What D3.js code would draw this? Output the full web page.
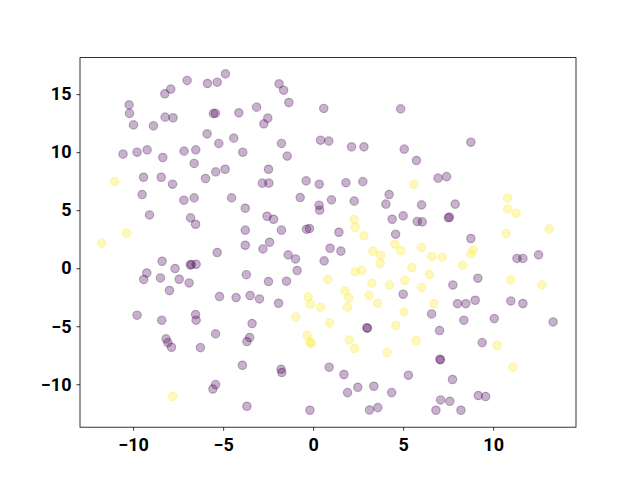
<!DOCTYPE html>
<html>
<head>
<meta charset="utf-8">
<script src="https://cdn.jsdelivr.net/npm/d3@7"></script>
<style>
  body { margin: 0; background: #fff; }
  svg { display: block; }
  .tick text { font-family: Roboto, "DejaVu Sans", sans-serif; font-weight: bold; font-size: 18px; fill: #000; }
</style>
</head>
<body>
<svg width="640" height="480"></svg>
<script>
// class 0 (purple)
const class0X = [-4.87, -7.0, -5.87, -5.33, -7.91, -8.24, -10.22, -10.2, -5.54, -5.43, -4.13, -9.98, -8.87, -8.22, -7.78,
  -5.89, -4.41, -5.24, -3.91, -10.56, -9.78, -9.22, -8.35, -7.17, -6.52, -6.61, -4.89, -5.41, -5.98, -9.42, -8.44, -7.81,
  -1.89, -1.64, -1.35, -3.14, -2.52, -2.74, 0.59, 4.86, -1.76, -1.44, 0.41, 0.87, 2.13, 2.82, 5.06, -2.48, -2.82, -2.46,
  -0.39, 0.34, 1.82, 2.76, 8.76, 5.74, 6.94, 7.41, -9.5, -7.18, -6.61, -4.53, -3.77, -9.09, -6.81, -6.53, -3.77, -3.77,
  -5.33, -8.39, -6.82, -6.77, -6.5, -7.67, -9.24, -9.41, -8.48, -7.44, -6.89, -7.98, -3.71, -5.2, -4.28, -0.72, 0.33, 0.36,
  1.02, 2.28, 4.22, 4.04, -2.56, -2.2, -1.76, -0.37, -0.2, 1.43, 4.39, 5.0, 4.58, -2.42, -2.79, 0.94, 1.54, -1.39, -0.98,
  0.61, -0.89, -2.48, -1.48, 5.0, -3.5, -2.98, -1.92, 6.02, 7.89, 5.78, 6.06, 7.51, 7.57, 8.76, 11.32, 11.65, 12.52, 9.15,
  7.76, 8.02, 8.48, 9.0, 10.98, 11.65, -9.78, -8.41, -6.53, -6.5, -5.42, -8.17, -8.07, -7.87, -6.26, -3.93, -5.42, -5.57,
  -3.68, 2.98, 3.02, -3.39, -3.53, -3.68, -1.78, -1.74, 0.89, 1.71, 2.48, 3.37, 1.91, 4.36, 5.29, -0.18, 3.13, 3.59, 6.58,
  8.37, 10.06, 13.33, 7.02, 9.39, 7.04, 7.07, 7.74, 7.08, 7.59, 9.17, 9.58, 6.82, 8.21];
const class0Y = [16.75, 16.18, 15.92, 16.03, 15.43, 15.03, 14.08, 13.34, 13.32, 13.36, 13.39, 12.35, 12.27, 13.02, 12.96,
  11.58, 11.21, 10.75, 10.0, 9.83, 10.0, 10.2, 9.54, 10.09, 10.2, 9.03, 8.53, 8.3, 7.73, 7.84, 7.84, 7.24,
  15.89, 15.34, 14.28, 13.88, 12.93, 12.44, 13.77, 13.73, 10.75, 9.66, 11.03, 10.95, 10.46, 10.46, 10.26, 8.53, 7.33, 7.33,
  7.53, 7.24, 7.37, 7.46, 10.86, 9.28, 7.76, 7.89, 6.35, 5.86, 6.06, 6.06, 5.17, 4.59, 4.34, 3.79, 3.28, 1.98,
  1.35, 0.6, 0.28, 0.32, 0.34, -0.03, -0.41, -0.97, -0.84, -0.95, -1.27, -1.92, -0.56, -2.44, -2.53, 6.09, 5.43, 5.0,
  5.89, 5.78, 6.35, 5.52, 4.48, 4.22, 3.28, 3.36, 3.42, 3.1, 4.22, 4.51, 2.93, 2.24, 1.66, 1.72, 1.47, 1.15, 0.8,
  0.63, -0.2, -1.15, -1.12, -2.24, -2.35, -2.65, -3.02, 5.46, 5.52, 4.03, 3.99, 4.35, 4.4, 2.56, 0.84, 0.84, 1.15, -0.86,
  -1.44, -3.06, -3.06, -2.76, -2.82, -3.04, -4.05, -4.48, -3.99, -4.48, -5.66, -6.09, -6.41, -6.81, -6.84, -8.36, -10.03, -10.41,
  -11.9, -5.13, -5.17, -4.77, -5.97, -6.32, -8.71, -8.99, -8.53, -9.16, -10.26, -10.17, -10.72, -10.72, -9.22, -12.24, -12.22, -12.01, -3.94,
  -4.48, -4.34, -4.63, -5.37, -6.41, -7.84, -7.89, -9.59, -11.35, -11.47, -10.97, -11.06, -12.24, -12.24];

// class 1 (yellow)
const class1X = [-11.03, -10.37, -11.74, -7.81, 2.28, 2.33, 2.82, 4.54, 4.86, 3.32, 3.76, 3.72, 2.33, 2.69, 5.48, 0.82,
  3.26, 4.24, 5.09, 1.78, 1.97, 3.11, -0.28, -0.16, 0.41, 1.91, 3.58, 5.59, 10.8, 10.8, 11.28, 10.72, 13.11, 6.02, 6.59,
  7.17, 8.89, 8.76, 8.3, 6.47, 6.02, 10.98, 12.71, 6.71, 5.04, -0.96, 0.91, 4.59, -0.33, -0.17, -0.11, 2.0, 2.3, 4.11,
  5.72, 10.22, 11.09];
const class1Y = [7.46, 3.02, 2.16, -11.06, 4.2, 3.53, 2.78, 2.07, 1.53, 1.47, 1.09, 0.41, -0.32, -0.17, 0.06, -0.97,
  -1.29, -1.44, -1.06, -1.96, -2.56, -2.35, -2.47, -3.1, -3.36, -3.36, -3.02, 7.24, 6.06, 5.11, 4.74, 2.99, 3.39, 1.78, 1.01,
  0.95, 1.55, 1.23, 0.26, -0.54, -1.66, -1.01, -1.44, -3.06, -3.77, -4.22, -4.72, -4.94, -5.78, -6.35, -6.49, -6.18, -6.92, -7.27,
  -6.23, -6.66, -8.53];

const xTicks = [-10, -5, 0, 5, 10];
const yTicks = [-10, -5, 0, 5, 10, 15];

const svg = d3.select('svg');
const margin = { left: 80, right: 64, top: 57.6, bottom: 52.8 };
const width = 640 - margin.left - margin.right;
const height = 480 - margin.top - margin.bottom;

const x = d3.scaleLinear().domain([-12.95, 14.6]).range([0, width]);
const y = d3.scaleLinear().domain([-13.7, 18.15]).range([height, 0]);

const g = svg.append('g')
  .attr('transform', `translate(${margin.left},${margin.top})`);

const points = [];
class0X.forEach((v, i) => points.push({ x: v, y: class0Y[i], c: '#440154' }));
class1X.forEach((v, i) => points.push({ x: v, y: class1Y[i], c: '#fde725' }));

g.selectAll('circle')
  .data(points)
  .join('circle')
  .attr('cx', d => x(d.x))
  .attr('cy', d => y(d.y))
  .attr('r', 4.2)
  .attr('fill', d => d.c)
  .attr('fill-opacity', 0.3)
  .attr('stroke', d => d.c)
  .attr('stroke-opacity', 0.3)
  .attr('stroke-width', 1.2);

// axes
const xAxis = g.append('g')
  .attr('transform', `translate(0,${height})`)
  .call(d3.axisBottom(x).tickValues(xTicks).tickSize(3.5).tickPadding(4).tickFormat(d => d3.format('')(d).replace('-', '\u2212')));
const yAxis = g.append('g')
  .call(d3.axisLeft(y).tickValues(yTicks).tickSize(3.5).tickPadding(5).tickFormat(d => d3.format('')(d).replace('-', '\u2212')));

[xAxis, yAxis].forEach(a => {
  a.select('.domain').remove();
  a.selectAll('.tick line').attr('stroke', '#000').attr('stroke-width', 0.8);
});
xAxis.selectAll('.tick text').attr('dy', '0.9em');

// frame
g.append('rect')
  .attr('width', width)
  .attr('height', height)
  .attr('fill', 'none')
  .attr('stroke', '#000')
  .attr('stroke-width', 0.8);
</script>
</body>
</html>
